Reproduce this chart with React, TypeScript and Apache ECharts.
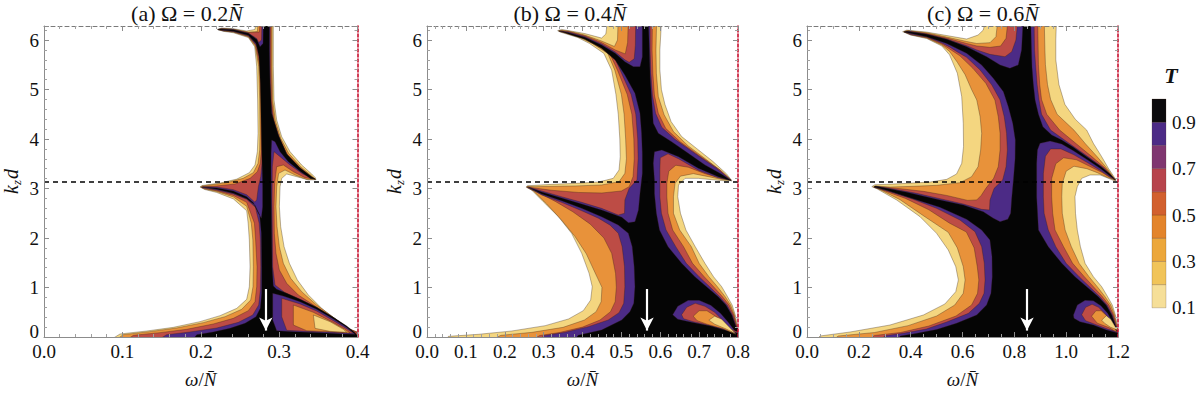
import React, { useEffect, useRef } from "react";
import * as echarts from "echarts";

type Pt = [number, number];

// ---------------- axes / annotations ----------------
const KD_MAX = 2 * Math.PI;
const KD_DASHED_LINE = Math.PI;
const Y_TICK_STEP = 1;
const OMEGA_MAX = [0.4, 0.8, 1.2];
const X_TICK_STEP = [0.1, 0.1, 0.2];
const X_MINOR_SPLIT = [5, 5, 4];
const PANEL_LABELS = ["(a) Ω = 0.2", "(b) Ω = 0.4", "(c) Ω = 0.6"];
const ARROW_OMEGA = [0.283, 0.566, 0.849];
const ARROW_KD_TOP = 0.97;
const ARROW_KD_TIP = 0.13;

// colour bar of T
const T_EDGES = [0, 0.1, 0.2, 0.3, 0.4, 0.5, 0.6, 0.7, 0.8, 0.9, 1.0];
const T_COLORS = ["#ffffff", "#f6df98", "#f1c459", "#eca73b", "#e3842b", "#d2602e", "#b7444c", "#7f3670", "#4c2b86", "#0b0a0c"];

// band fills used for the traced contour levels
const BAND_01 = "#f4d680"; // 0.1 – 0.3
const BAND_03 = "#e8923a"; // 0.3 – 0.55
const BAND_055 = "#bd4c45"; // 0.55 – 0.8
const BAND_08 = "#4c2b86"; // 0.8 – 0.9
const BAND_09 = "#050505"; // > 0.9
const CONTOUR_LINE = "rgba(45,28,18,0.55)";

// ---------------- panel (a): Ω = 0.2 N ----------------
const A_W_LEFT: Pt[] = [[0,0],[0,6.283],[0.2714,6.283],[0.2692,6.215],[0.2586,6.182],[0.2416,6.229],[0.2267,6.242],[0.2212,6.215],[0.229,6.175],[0.2416,6.147],[0.2607,6.05],[0.2688,5.866],[0.2714,5.461],[0.2726,4.788],[0.2731,4.114],[0.2722,3.744],[0.2692,3.475],[0.262,3.32],[0.246,3.19],[0.2246,3.11],[0.2076,3.075],[0.2016,3.06],[0.199,3.03],[0.205,2.98],[0.2203,2.92],[0.2416,2.79],[0.2586,2.55],[0.2605,2.3],[0.262,1.96],[0.2629,1.421],[0.262,1.017],[0.2586,0.761],[0.246,0.579],[0.2246,0.431],[0.199,0.31],[0.165,0.195],[0.131,0.121],[0.097,0.061],[0.0702,0]];
const A_W_RIGHT: Pt[] = [[0.2926,6.283],[0.4,6.283],[0.4,0.04],[0.3905,0.141],[0.3735,0.343],[0.3543,0.579],[0.3373,0.849],[0.3233,1.152],[0.3131,1.488],[0.3063,1.825],[0.302,2.229],[0.3003,2.633],[0.3012,3.037],[0.3033,3.205],[0.3097,3.293],[0.3224,3.239],[0.3373,3.172],[0.3471,3.178],[0.3462,3.219],[0.3416,3.293],[0.3288,3.475],[0.3139,3.744],[0.3033,4.047],[0.2969,4.384],[0.2935,4.788],[0.2926,5.461]];
const A_L03: Pt[] = [[0.2739,6.283],[0.2722,6.17],[0.2607,6.16],[0.2416,6.22],[0.2267,6.235],[0.2216,6.213],[0.229,6.18],[0.2416,6.16],[0.2607,6.065],[0.2695,5.88],[0.2739,5.461],[0.2752,4.788],[0.2756,4.114],[0.2752,3.778],[0.2731,3.508],[0.2671,3.32],[0.254,3.205],[0.233,3.118],[0.212,3.071],[0.202,3.051],[0.2,3.03],[0.205,2.99],[0.2203,2.94],[0.2416,2.83],[0.2586,2.64],[0.2645,2.3],[0.2665,1.96],[0.2671,1.421],[0.2667,1.017],[0.2637,0.747],[0.2522,0.559],[0.231,0.411],[0.2033,0.29],[0.169,0.182],[0.135,0.108],[0.101,0.047],[0.08,0]];
const A_R03: Pt[] = [[0.4,0.02],[0.3883,0.175],[0.3692,0.397],[0.3479,0.646],[0.3288,0.916],[0.3148,1.185],[0.3054,1.488],[0.3003,1.825],[0.2973,2.229],[0.296,2.633],[0.2969,3.037],[0.2994,3.306],[0.3075,3.374],[0.3203,3.273],[0.3352,3.185],[0.3462,3.185],[0.3411,3.259],[0.3275,3.441],[0.3122,3.71],[0.302,4.013],[0.2952,4.37],[0.2918,4.788],[0.291,5.461],[0.291,6.283]];
const A_L055: Pt[] = [[0.276,6.283],[0.2748,6.16],[0.2607,6.15],[0.2416,6.215],[0.2267,6.23],[0.222,6.211],[0.229,6.185],[0.2416,6.165],[0.2607,6.075],[0.27,5.9],[0.2756,5.461],[0.2769,4.788],[0.2773,4.114],[0.2773,3.778],[0.276,3.508],[0.2722,3.34],[0.2629,3.205],[0.2437,3.091],[0.2203,3.051],[0.204,3.037],[0.2008,3.024],[0.205,3.0],[0.2203,2.955],[0.2416,2.86],[0.2586,2.72],[0.2685,2.3],[0.27,1.96],[0.2718,1.421],[0.2714,1.017],[0.2692,0.714],[0.2607,0.532],[0.2416,0.377],[0.216,0.263],[0.182,0.155],[0.148,0.088],[0.114,0.034],[0.0927,0]];
const A_R055: Pt[] = [[0.4,0.007],[0.3875,0.175],[0.3684,0.391],[0.3458,0.626],[0.3245,0.849],[0.3097,1.084],[0.3003,1.354],[0.296,1.69],[0.2939,2.094],[0.2935,2.633],[0.2943,3.104],[0.2969,3.441],[0.3054,3.475],[0.3182,3.34],[0.333,3.219],[0.3462,3.185],[0.3407,3.239],[0.3267,3.414],[0.311,3.677],[0.3007,3.98],[0.2935,4.35],[0.2905,4.788],[0.2897,5.461],[0.2897,6.283]];
const A_L08: Pt[] = [[0.2782,6.283],[0.2775,6.0],[0.274,5.95],[0.2714,6.03],[0.2607,6.14],[0.2416,6.212],[0.2267,6.226],[0.2224,6.21],[0.229,6.19],[0.2416,6.17],[0.2607,6.085],[0.2703,5.91],[0.2748,5.764],[0.2778,5.461],[0.2786,4.788],[0.2786,4.114],[0.2786,3.778],[0.2782,3.508],[0.2765,3.239],[0.2735,3.037],[0.2714,2.768],[0.2688,2.727],[0.2586,2.875],[0.2416,2.977],[0.2203,3.03],[0.2025,3.037],[0.2016,3.017],[0.205,3.01],[0.2203,2.97],[0.2416,2.889],[0.2586,2.781],[0.2697,2.62],[0.2745,2.3],[0.276,1.96],[0.2765,1.421],[0.276,0.95],[0.2739,0.646],[0.2663,0.444],[0.248,0.296],[0.2203,0.182],[0.186,0.101],[0.1565,0.047],[0.131,0]];
const A_R08: Pt[] = [[0.4,0],[0.3871,0.202],[0.3705,0.377],[0.35,0.572],[0.3288,0.747],[0.3075,0.896],[0.2948,1.051],[0.2918,1.421],[0.2914,2.094],[0.291,2.768],[0.2914,3.441],[0.2935,3.744],[0.3012,3.643],[0.3139,3.475],[0.3301,3.293],[0.3462,3.185],[0.3407,3.226],[0.3267,3.394],[0.3101,3.67],[0.2999,4.047],[0.2918,4.451],[0.2892,4.788],[0.2884,5.461],[0.2884,6.283]];
const A_BLACK: Pt[] = [[0.2799,6.283],[0.2795,5.932],[0.2756,5.866],[0.2714,6.013],[0.2607,6.135],[0.2416,6.209],[0.2246,6.222],[0.222,6.209],[0.2416,6.175],[0.2607,6.094],[0.2705,5.932],[0.2743,5.663],[0.276,5.125],[0.2769,4.451],[0.2778,3.778],[0.2786,3.306],[0.279,3.037],[0.279,2.633],[0.2773,2.397],[0.2735,2.498],[0.2671,2.714],[0.2586,2.835],[0.2416,2.95],[0.2203,3.01],[0.2016,3.03],[0.2203,2.983],[0.2416,2.902],[0.2586,2.795],[0.2692,2.66],[0.2752,2.465],[0.2773,2.094],[0.2778,1.421],[0.2778,0.882],[0.276,0.579],[0.2705,0.411],[0.2565,0.276],[0.2373,0.175],[0.216,0.101],[0.195,0.047],[0.182,0],[0.4,0],[0.3969,0.088],[0.3862,0.222],[0.3692,0.397],[0.3479,0.599],[0.3267,0.761],[0.3097,0.882],[0.2969,0.963],[0.2926,1.03],[0.291,1.421],[0.2905,2.094],[0.29,2.768],[0.2897,3.306],[0.2897,3.71],[0.2905,3.98],[0.2948,3.946],[0.3012,3.744],[0.3118,3.542],[0.3267,3.347],[0.3403,3.199],[0.3462,3.192],[0.3416,3.239],[0.3267,3.421],[0.3097,3.697],[0.299,4.081],[0.2905,4.519],[0.2884,5.125],[0.2875,5.798],[0.2875,6.283]];
const A_I09: Pt[] = [[0.2918,0.882],[0.3054,0.828],[0.3267,0.714],[0.3479,0.559],[0.3692,0.364],[0.3862,0.195],[0.3969,0.054],[0.382,0.061],[0.3522,0.088],[0.3182,0.108],[0.2969,0.128],[0.2918,0.343]];
const A_I08: Pt[] = [[0.3033,0.781],[0.3267,0.667],[0.3479,0.525],[0.3692,0.33],[0.3862,0.168],[0.3947,0.074],[0.3692,0.094],[0.3352,0.114],[0.3097,0.135],[0.3033,0.411]];
const A_I055: Pt[] = [[0.3182,0.646],[0.3437,0.498],[0.3671,0.31],[0.3841,0.155],[0.3905,0.081],[0.3649,0.108],[0.3352,0.128],[0.3182,0.242]];
const A_I03: Pt[] = [[0.3437,0.444],[0.3649,0.31],[0.382,0.155],[0.3862,0.094],[0.3649,0.114],[0.3458,0.175]];

// ---------------- panel (b): Ω = 0.4 N ----------------
const B_W_LEFT: Pt[] = [[0,0],[0,6.283],[0.466,6.283],[0.46,6.12],[0.449,6.04],[0.406,6.13],[0.364,6.19],[0.346,6.215],[0.336,6.189],[0.347,6.15],[0.388,6.05],[0.418,5.93],[0.455,5.73],[0.475,5.39],[0.486,4.9],[0.492,4.5],[0.496,4.0],[0.497,3.643],[0.494,3.374],[0.479,3.205],[0.441,3.131],[0.381,3.104],[0.321,3.084],[0.278,3.064],[0.259,3.057],[0.255,3.03],[0.269,2.97],[0.299,2.734],[0.338,2.431],[0.372,2.094],[0.398,1.69],[0.417,1.286],[0.425,1.017],[0.421,0.747],[0.402,0.532],[0.364,0.364],[0.304,0.229],[0.218,0.121],[0.132,0.054],[0.055,0.013],[0.04,0]];
const B_W_RIGHT: Pt[] = [[0.604,6.283],[0.8,6.283],[0.8,0.03],[0.799,0.209],[0.793,0.444],[0.785,0.646],[0.773,0.815],[0.758,1.017],[0.737,1.219],[0.715,1.488],[0.69,1.825],[0.666,2.162],[0.652,2.5],[0.645,2.835],[0.647,3.071],[0.664,3.205],[0.698,3.205],[0.741,3.172],[0.771,3.152],[0.784,3.165],[0.77,3.3],[0.735,3.55],[0.695,3.8],[0.655,4.05],[0.628,4.35],[0.612,4.7],[0.603,5.0],[0.599,5.4],[0.599,5.8]];
const B_L03: Pt[] = [[0.492,6.283],[0.49,6.0],[0.482,5.87],[0.449,5.98],[0.406,6.1],[0.364,6.18],[0.346,6.195],[0.338,6.182],[0.351,6.15],[0.394,6.05],[0.425,5.93],[0.465,5.73],[0.483,5.39],[0.5,4.9],[0.507,4.5],[0.511,4.0],[0.513,3.6],[0.509,3.306],[0.494,3.138],[0.449,3.071],[0.381,3.051],[0.321,3.044],[0.278,3.037],[0.258,3.044],[0.256,3.024],[0.274,2.95],[0.308,2.687],[0.346,2.364],[0.381,2.027],[0.41,1.677],[0.435,1.253],[0.45,1.003],[0.448,0.714],[0.435,0.512],[0.405,0.343],[0.35,0.195],[0.27,0.094],[0.19,0.034],[0.13,0]];
const B_R03: Pt[] = [[0.8,0.02],[0.797,0.209],[0.791,0.444],[0.781,0.646],[0.767,0.815],[0.747,1.017],[0.725,1.219],[0.7,1.488],[0.68,1.825],[0.65,2.162],[0.634,2.5],[0.634,2.835],[0.638,3.1],[0.652,3.25],[0.685,3.3],[0.724,3.24],[0.76,3.18],[0.782,3.17],[0.756,3.36],[0.716,3.6],[0.672,3.86],[0.634,4.15],[0.61,4.49],[0.595,4.86],[0.59,5.33],[0.589,5.8],[0.591,6.283]];
const B_L055: Pt[] = [[0.518,6.283],[0.516,5.95],[0.51,5.72],[0.484,5.8],[0.449,5.95],[0.406,6.085],[0.364,6.17],[0.346,6.185],[0.34,6.175],[0.354,6.15],[0.398,6.05],[0.43,5.93],[0.47,5.73],[0.49,5.39],[0.515,4.9],[0.527,4.5],[0.532,4.0],[0.533,3.6],[0.53,3.239],[0.52,3.037],[0.5,2.95],[0.45,2.91],[0.39,2.92],[0.32,2.965],[0.272,3.015],[0.257,3.03],[0.29,2.9],[0.33,2.74],[0.375,2.53],[0.42,2.28],[0.455,2.0],[0.475,1.69],[0.485,1.286],[0.487,1.003],[0.484,0.714],[0.472,0.512],[0.445,0.343],[0.4,0.2],[0.34,0.09],[0.29,0.03],[0.24,0]];
const B_R055: Pt[] = [[0.8,0.015],[0.797,0.209],[0.789,0.444],[0.777,0.646],[0.76,0.815],[0.737,1.017],[0.713,1.219],[0.683,1.488],[0.66,1.825],[0.632,2.162],[0.62,2.5],[0.617,2.835],[0.617,3.104],[0.622,3.35],[0.64,3.47],[0.672,3.43],[0.715,3.3],[0.758,3.2],[0.782,3.172],[0.754,3.374],[0.702,3.657],[0.651,3.946],[0.614,4.215],[0.595,4.519],[0.585,4.889],[0.581,5.327],[0.579,5.798],[0.58,6.283]];
const B_L08: Pt[] = [[0.537,6.283],[0.536,5.9],[0.533,5.62],[0.52,5.55],[0.509,5.6],[0.484,5.76],[0.449,5.92],[0.406,6.07],[0.364,6.16],[0.346,6.178],[0.341,6.168],[0.357,6.15],[0.402,6.05],[0.435,5.93],[0.478,5.73],[0.497,5.39],[0.525,4.9],[0.537,4.5],[0.542,4.0],[0.543,3.6],[0.54,3.172],[0.52,3.003],[0.509,2.768],[0.508,2.498],[0.492,2.465],[0.449,2.599],[0.398,2.721],[0.346,2.835],[0.295,2.95],[0.261,3.03],[0.259,3.024],[0.295,2.87],[0.346,2.72],[0.398,2.55],[0.441,2.4],[0.471,2.26],[0.492,2.094],[0.502,1.825],[0.508,1.421],[0.509,1.017],[0.506,0.68],[0.494,0.492],[0.466,0.343],[0.415,0.209],[0.355,0.094],[0.3,0.027],[0.275,0]];
const B_R08: Pt[] = [[0.8,0.01],[0.796,0.209],[0.786,0.444],[0.772,0.646],[0.753,0.815],[0.727,1.017],[0.7,1.219],[0.667,1.488],[0.64,1.825],[0.615,2.162],[0.603,2.5],[0.599,2.835],[0.599,3.374],[0.6,3.62],[0.62,3.7],[0.647,3.6],[0.698,3.37],[0.749,3.215],[0.782,3.165],[0.745,3.407],[0.689,3.71],[0.638,3.993],[0.604,4.236],[0.588,4.519],[0.58,4.889],[0.576,5.327],[0.574,5.798],[0.574,6.283]];
const B_BLACK: Pt[] = [[0.554,6.283],[0.554,5.663],[0.548,5.461],[0.531,5.461],[0.509,5.562],[0.484,5.731],[0.449,5.899],[0.406,6.054],[0.364,6.148],[0.34,6.189],[0.364,6.121],[0.406,6.013],[0.449,5.832],[0.484,5.596],[0.509,5.293],[0.535,4.923],[0.548,4.519],[0.552,4.114],[0.554,3.71],[0.554,3.306],[0.55,3.037],[0.548,2.902],[0.544,2.566],[0.535,2.33],[0.518,2.31],[0.501,2.418],[0.449,2.566],[0.398,2.687],[0.346,2.808],[0.295,2.929],[0.261,3.024],[0.295,2.889],[0.346,2.754],[0.398,2.599],[0.449,2.431],[0.492,2.263],[0.518,2.094],[0.528,1.825],[0.533,1.421],[0.535,1.017],[0.532,0.68],[0.522,0.512],[0.501,0.343],[0.449,0.141],[0.389,0.034],[0.364,0],[0.8,0],[0.8,0.06],[0.795,0.209],[0.784,0.444],[0.769,0.646],[0.749,0.815],[0.719,1.017],[0.689,1.219],[0.655,1.488],[0.62,1.825],[0.598,2.162],[0.59,2.5],[0.585,2.9],[0.585,3.172],[0.582,3.508],[0.585,3.744],[0.604,3.778],[0.647,3.643],[0.698,3.407],[0.749,3.239],[0.784,3.152],[0.758,3.286],[0.715,3.475],[0.672,3.71],[0.629,3.946],[0.595,4.114],[0.582,4.317],[0.578,4.788],[0.574,5.259],[0.572,5.798],[0.569,6.283]];
const B_I09: Pt[] = [[0.632,0.45],[0.645,0.62],[0.672,0.74],[0.7,0.74],[0.73,0.64],[0.755,0.48],[0.775,0.3],[0.792,0.12],[0.8,0.03],[0.77,0.13],[0.73,0.22],[0.68,0.3],[0.645,0.36]];
const B_I08: Pt[] = [[0.655,0.45],[0.668,0.6],[0.69,0.68],[0.715,0.62],[0.74,0.5],[0.76,0.34],[0.78,0.16],[0.8,0.03],[0.775,0.14],[0.73,0.23],[0.685,0.31],[0.66,0.37]];
const B_I055: Pt[] = [[0.685,0.42],[0.7,0.53],[0.72,0.53],[0.742,0.42],[0.762,0.27],[0.785,0.1],[0.795,0.05],[0.76,0.17],[0.72,0.26],[0.695,0.33]];
const B_I03: Pt[] = [[0.725,0.34],[0.74,0.42],[0.758,0.36],[0.775,0.22],[0.795,0.06],[0.77,0.16],[0.74,0.26]];

// ---------------- panel (c): Ω = 0.6 N ----------------
const C_W_LEFT: Pt[] = [[0,0],[0,6.283],[0.693,6.283],[0.68,6.2],[0.66,6.1],[0.616,6.02],[0.539,6.09],[0.462,6.16],[0.385,6.2],[0.369,6.168],[0.4,6.1],[0.462,6.03],[0.52,5.88],[0.55,5.7],[0.58,5.33],[0.597,4.855],[0.603,4.317],[0.604,3.845],[0.597,3.508],[0.577,3.293],[0.539,3.185],[0.475,3.131],[0.385,3.104],[0.307,3.084],[0.262,3.077],[0.25,3.037],[0.269,2.997],[0.346,2.768],[0.436,2.431],[0.5,2.094],[0.545,1.758],[0.574,1.421],[0.584,1.152],[0.574,0.916],[0.532,0.667],[0.449,0.444],[0.32,0.242],[0.166,0.101],[0.05,0.02],[0.012,0]];
const C_W_RIGHT: Pt[] = [[0.963,6.283],[1.2,6.283],[1.2,0.03],[1.198,0.2],[1.19,0.444],[1.178,0.646],[1.16,0.815],[1.137,1.017],[1.105,1.219],[1.073,1.488],[1.055,1.825],[1.043,2.162],[1.036,2.5],[1.034,2.835],[1.043,3.037],[1.06,3.205],[1.092,3.273],[1.131,3.273],[1.163,3.205],[1.185,3.158],[1.193,3.17],[1.163,3.407],[1.137,3.643],[1.105,3.912],[1.079,4.182],[1.035,4.4],[0.995,4.7],[0.972,5.1],[0.96,5.6],[0.96,6.0]];
const C_L03: Pt[] = [[0.738,6.283],[0.729,6.067],[0.706,5.946],[0.655,5.93],[0.616,5.97],[0.539,6.06],[0.462,6.145],[0.387,6.19],[0.374,6.168],[0.4,6.105],[0.462,6.04],[0.52,5.9],[0.55,5.77],[0.58,5.55],[0.61,5.3],[0.635,5.0],[0.655,4.788],[0.668,4.451],[0.674,4.114],[0.67,3.778],[0.66,3.441],[0.635,3.239],[0.59,3.118],[0.5,3.064],[0.41,3.044],[0.32,3.03],[0.266,3.051],[0.256,3.03],[0.275,2.997],[0.359,2.774],[0.449,2.451],[0.545,2.115],[0.58,1.8],[0.603,1.421],[0.61,1.152],[0.603,0.882],[0.57,0.646],[0.5,0.424],[0.39,0.229],[0.26,0.09],[0.12,0.02],[0.07,0]];
const C_R03: Pt[] = [[1.2,0.03],[1.196,0.2],[1.187,0.444],[1.172,0.646],[1.15,0.815],[1.12,1.017],[1.088,1.219],[1.05,1.488],[1.02,1.825],[0.996,2.162],[0.985,2.5],[0.983,2.835],[0.985,3.1],[1.0,3.35],[1.03,3.45],[1.08,3.4],[1.12,3.32],[1.16,3.22],[1.19,3.17],[1.157,3.41],[1.12,3.64],[1.075,3.9],[1.03,4.18],[0.965,4.5],[0.94,4.8],[0.928,5.1],[0.92,5.5],[0.918,5.8],[0.915,6.283]];
const C_L055: Pt[] = [[0.777,6.283],[0.768,6.034],[0.747,5.879],[0.706,5.852],[0.655,5.88],[0.616,5.93],[0.539,6.04],[0.462,6.13],[0.391,6.183],[0.376,6.165],[0.4,6.11],[0.462,6.05],[0.52,5.92],[0.55,5.82],[0.59,5.68],[0.64,5.428],[0.69,5.125],[0.725,4.788],[0.738,4.451],[0.745,4.114],[0.745,3.778],[0.738,3.441],[0.72,3.205],[0.69,3.003],[0.672,2.86],[0.655,2.77],[0.62,2.76],[0.539,2.86],[0.449,2.943],[0.359,2.997],[0.275,3.037],[0.259,3.024],[0.29,2.97],[0.38,2.8],[0.47,2.57],[0.55,2.3],[0.615,2.12],[0.645,1.8],[0.657,1.421],[0.663,1.152],[0.658,0.882],[0.635,0.646],[0.575,0.424],[0.47,0.222],[0.36,0.09],[0.26,0.03],[0.2,0]];
const C_R055: Pt[] = [[1.2,0.025],[1.195,0.2],[1.183,0.444],[1.165,0.646],[1.14,0.815],[1.105,1.017],[1.07,1.219],[1.025,1.488],[0.99,1.825],[0.957,2.162],[0.948,2.5],[0.944,2.835],[0.944,3.2],[0.96,3.5],[0.99,3.62],[1.04,3.58],[1.09,3.45],[1.14,3.32],[1.172,3.21],[1.19,3.17],[1.151,3.41],[1.1,3.64],[1.04,3.9],[0.975,4.18],[0.925,4.5],[0.905,4.8],[0.898,5.1],[0.893,5.5],[0.892,5.8],[0.89,6.283]];
const C_L08: Pt[] = [[0.815,6.283],[0.806,6.0],[0.79,5.764],[0.764,5.663],[0.706,5.71],[0.655,5.8],[0.616,5.885],[0.539,6.02],[0.462,6.12],[0.393,6.178],[0.377,6.162],[0.4,6.115],[0.462,6.06],[0.52,5.94],[0.55,5.86],[0.58,5.76],[0.616,5.65],[0.668,5.394],[0.713,5.091],[0.745,4.788],[0.761,4.451],[0.77,4.114],[0.773,3.778],[0.768,3.441],[0.755,3.172],[0.722,3.003],[0.706,2.768],[0.704,2.566],[0.674,2.579],[0.603,2.687],[0.513,2.795],[0.423,2.902],[0.333,2.99],[0.269,3.044],[0.261,3.024],[0.32,2.936],[0.41,2.781],[0.5,2.599],[0.59,2.364],[0.648,2.128],[0.674,1.825],[0.684,1.488],[0.687,1.152],[0.683,0.882],[0.665,0.68],[0.623,0.478],[0.539,0.303],[0.46,0.16],[0.37,0.075],[0.3,0.025],[0.27,0]];
const C_R08: Pt[] = [[1.2,0.02],[1.194,0.2],[1.179,0.444],[1.158,0.646],[1.13,0.815],[1.09,1.017],[1.05,1.219],[1.0,1.488],[0.96,1.825],[0.931,2.162],[0.915,2.5],[0.912,2.835],[0.912,3.3],[0.92,3.65],[0.94,3.8],[0.98,3.8],[1.03,3.68],[1.08,3.53],[1.13,3.37],[1.17,3.23],[1.19,3.17],[1.146,3.41],[1.085,3.64],[1.015,3.9],[0.94,4.18],[0.905,4.5],[0.895,4.8],[0.888,5.1],[0.882,5.5],[0.878,5.8],[0.876,6.283]];
const C_BLACK: Pt[] = [[0.835,6.283],[0.828,5.798],[0.815,5.495],[0.783,5.428],[0.745,5.495],[0.693,5.663],[0.616,5.866],[0.539,6.013],[0.462,6.115],[0.385,6.175],[0.374,6.162],[0.462,6.067],[0.539,5.932],[0.616,5.731],[0.674,5.495],[0.719,5.226],[0.758,4.956],[0.777,4.653],[0.794,4.317],[0.804,3.98],[0.803,3.6],[0.797,3.2],[0.79,2.8],[0.786,2.5],[0.775,2.38],[0.745,2.33],[0.719,2.397],[0.68,2.532],[0.603,2.667],[0.513,2.768],[0.385,2.923],[0.307,3.003],[0.262,3.051],[0.259,3.03],[0.307,2.963],[0.385,2.835],[0.513,2.62],[0.616,2.377],[0.674,2.162],[0.706,1.96],[0.714,1.623],[0.715,1.219],[0.71,0.882],[0.693,0.646],[0.655,0.444],[0.577,0.276],[0.5,0.15],[0.42,0.07],[0.36,0.02],[0.33,0],[1.2,0],[1.2,0.06],[1.192,0.209],[1.176,0.444],[1.154,0.646],[1.124,0.815],[1.079,1.017],[1.034,1.219],[0.983,1.488],[0.931,1.825],[0.893,2.162],[0.886,2.835],[0.886,3.5],[0.889,3.78],[0.899,3.912],[0.938,3.96],[0.983,3.899],[1.028,3.764],[1.079,3.589],[1.131,3.407],[1.169,3.253],[1.19,3.17],[1.169,3.293],[1.131,3.455],[1.079,3.643],[1.028,3.832],[0.983,3.98],[0.944,4.081],[0.91,4.25],[0.893,4.5],[0.88,4.79],[0.873,5.12],[0.868,5.46],[0.866,5.8],[0.863,6.283]];
const C_I09: Pt[] = [[1.028,0.444],[1.043,0.646],[1.073,0.74],[1.105,0.73],[1.134,0.63],[1.16,0.48],[1.18,0.3],[1.195,0.12],[1.2,0.03],[1.156,0.14],[1.105,0.24],[1.053,0.31],[1.03,0.377]];
const C_I08: Pt[] = [[1.06,0.45],[1.075,0.6],[1.1,0.66],[1.125,0.6],[1.15,0.47],[1.172,0.32],[1.19,0.14],[1.2,0.04],[1.16,0.16],[1.11,0.26],[1.075,0.33]];
const C_I055: Pt[] = [[1.098,0.42],[1.115,0.53],[1.135,0.53],[1.158,0.42],[1.178,0.27],[1.195,0.1],[1.165,0.19],[1.12,0.28]];
const C_I03: Pt[] = [[1.137,0.34],[1.155,0.43],[1.172,0.36],[1.19,0.2],[1.2,0.06],[1.17,0.2],[1.148,0.28]];

// ---------------- layout ----------------
const FONT = "'Liberation Serif', 'Times New Roman', serif";
const GRIDS = [
  { left: 44, top: 26, width: 313.5, height: 311 },
  { left: 427, top: 26, width: 311, height: 311 },
  { left: 807, top: 26, width: 311, height: 311 },
];
const CB_GRID = { left: 1152, top: 99, width: 14, height: 232 };
const TITLE_CX = [187, 570, 983];

type Layer = { pts: Pt[]; fill: string; line: boolean };

function panelLayers(xMax: number, d: Record<string, Pt[]>): Layer[] {
  const full: Pt[] = [[0, 0], [xMax, 0], [xMax, KD_MAX], [0, KD_MAX]];
  return [
    { pts: full, fill: BAND_01, line: false },
    { pts: d.wl, fill: "#ffffff", line: true },
    { pts: d.wr, fill: "#ffffff", line: true },
    { pts: d.l03.concat(d.r03), fill: BAND_03, line: true },
    { pts: d.l055.concat(d.r055), fill: BAND_055, line: true },
    { pts: d.l08.concat(d.r08), fill: BAND_08, line: true },
    { pts: d.black, fill: BAND_09, line: true },
    { pts: d.i09, fill: BAND_08, line: true },
    { pts: d.i08, fill: BAND_055, line: true },
    { pts: d.i055, fill: BAND_03, line: true },
    { pts: d.i03, fill: BAND_01, line: true },
  ];
}

const PANEL_DATA = [
  { wl: A_W_LEFT, wr: A_W_RIGHT, l03: A_L03, r03: A_R03, l055: A_L055, r055: A_R055, l08: A_L08, r08: A_R08, black: A_BLACK, i09: A_I09, i08: A_I08, i055: A_I055, i03: A_I03 },
  { wl: B_W_LEFT, wr: B_W_RIGHT, l03: B_L03, r03: B_R03, l055: B_L055, r055: B_R055, l08: B_L08, r08: B_R08, black: B_BLACK, i09: B_I09, i08: B_I08, i055: B_I055, i03: B_I03 },
  { wl: C_W_LEFT, wr: C_W_RIGHT, l03: C_L03, r03: C_R03, l055: C_L055, r055: C_R055, l08: C_L08, r08: C_R08, black: C_BLACK, i09: C_I09, i08: C_I08, i055: C_I055, i03: C_I03 },
];

// points lying on the frame are pushed just outside it so that their
// outline falls under the clip and does not draw a line along the frame
function snap(p: Pt, xMax: number): Pt {
  const x = p[0] <= 0 ? -0.03 * xMax : p[0] >= xMax ? 1.03 * xMax : p[0];
  const y = p[1] >= 6.28 ? KD_MAX + 0.2 : p[1] <= 0 ? -0.2 : p[1];
  return [x, y];
}

function buildOption(): any {
  const xAxis: any[] = [];
  const yAxis: any[] = [];
  const series: any[] = [];
  const gray = "#8c8c8c";
  const labelStyle = { fontFamily: FONT, fontSize: 19, color: "#111" };

  for (let i = 0; i < 3; i++) {
    xAxis.push({
      type: "value", gridIndex: i, min: 0, max: OMEGA_MAX[i], interval: X_TICK_STEP[i], position: "bottom", z: 5,
      axisLine: { show: true, onZero: false, lineStyle: { color: gray, width: 1 } },
      axisTick: { show: true, inside: true, length: 5, lineStyle: { color: gray } },
      minorTick: { show: true, splitNumber: X_MINOR_SPLIT[i], length: 3, lineStyle: { color: "#a0a0a0" } },
      axisLabel: { show: true, margin: 5, ...labelStyle, formatter: (v: number) => v.toFixed(1) },
      splitLine: { show: false },
    });
    yAxis.push({
      type: "value", gridIndex: i, min: 0, max: KD_MAX, interval: Y_TICK_STEP, position: "left", z: 5,
      axisLine: { show: true, onZero: false, lineStyle: { color: gray, width: 1 } },
      axisTick: { show: true, inside: true, length: 5, lineStyle: { color: gray } },
      minorTick: { show: true, splitNumber: 5, length: 3, lineStyle: { color: "#a0a0a0" } },
      axisLabel: {
        show: true, margin: 5, ...labelStyle, showMaxLabel: false,
        rich: { z: { ...labelStyle, padding: [0, 0, 12, 0] } },
        formatter: (v: number) => {
          if (Math.abs(v - Math.round(v)) > 1e-6) return "";
          const n = Math.round(v);
          return n === 0 ? "{z|0}" : String(n);
        },
      },
      splitLine: { show: false },
    });
  }
  for (let i = 0; i < 3; i++) {
    xAxis.push({
      type: "value", gridIndex: i, min: 0, max: OMEGA_MAX[i], interval: X_TICK_STEP[i], position: "top", z: 5,
      axisLine: { show: true, onZero: false, lineStyle: { color: "#7a7a7a", width: 1, type: [4, 3] } },
      axisTick: { show: true, inside: true, length: 5, lineStyle: { color: gray } },
      minorTick: { show: true, splitNumber: X_MINOR_SPLIT[i], length: 3, lineStyle: { color: "#a0a0a0" } },
      axisLabel: { show: false }, splitLine: { show: false },
    });
    yAxis.push({
      type: "value", gridIndex: i, min: 0, max: KD_MAX, interval: Y_TICK_STEP, position: "right", z: 5,
      axisLine: { show: true, onZero: false, lineStyle: { color: "#c8102e", width: 1.6, type: [3, 2] } },
      axisTick: { show: true, inside: true, length: 5, lineStyle: { color: gray } },
      minorTick: { show: true, splitNumber: 5, length: 3, lineStyle: { color: "#a0a0a0" } },
      axisLabel: { show: false }, splitLine: { show: false },
    });
  }
  xAxis.push({ type: "value", gridIndex: 3, min: 0, max: 1, show: false });
  yAxis.push({
    type: "value", gridIndex: 3, min: 0, max: 1, interval: 0.1, position: "right",
    axisLine: { show: false }, axisTick: { show: false }, splitLine: { show: false },
    axisLabel: {
      show: true, margin: 6, ...labelStyle,
      formatter: (v: number) => { const k = Math.round(v * 10); return k % 2 === 1 ? (k / 10).toFixed(1) : ""; },
    },
  });

  for (let i = 0; i < 3; i++) {
    const xMax = OMEGA_MAX[i];
    const layers = panelLayers(xMax, PANEL_DATA[i] as any);
    series.push({
      type: "custom", xAxisIndex: i, yAxisIndex: i, clip: true, silent: true, z: 2,
      data: layers.map((l) => [l.pts[0][0], l.pts[0][1]]),
      renderItem: (params: any, api: any) => {
        const L = layers[params.dataIndex];
        const points = L.pts.map((p) => api.coord(snap(p, xMax)));
        return {
          type: "polygon", shape: { points },
          style: { fill: L.fill, stroke: L.line ? CONTOUR_LINE : "none", lineWidth: L.line ? 0.6 : 0 },
        };
      },
      markLine: {
        silent: true, symbol: ["none", "none"], label: { show: false }, animation: false,
        data: [
          { yAxis: KD_DASHED_LINE, lineStyle: { color: "#000", width: 1.6, type: [5, 4] } },
          [
            { coord: [ARROW_OMEGA[i], ARROW_KD_TOP], symbol: "none", lineStyle: { color: "#ffffff", width: 2.2, type: "solid" } },
            { coord: [ARROW_OMEGA[i], ARROW_KD_TIP], symbol: "arrow", symbolSize: [10, 13] },
          ],
        ],
      },
    });
  }

  series.push({
    type: "custom", xAxisIndex: 6, yAxisIndex: 6, silent: true,
    data: T_COLORS.map((_, k) => [T_EDGES[k], T_EDGES[k + 1]]),
    renderItem: (params: any, api: any) => {
      const k = params.dataIndex;
      const lo = api.coord([0, T_EDGES[k]]);
      const hi = api.coord([1, T_EDGES[k + 1]]);
      return {
        type: "rect",
        shape: { x: lo[0], y: hi[1], width: hi[0] - lo[0], height: lo[1] - hi[1] },
        style: { fill: T_COLORS[k], stroke: k === 0 ? "none" : "rgba(70,45,25,0.45)", lineWidth: 0.5 },
      };
    },
  });

  const rich = {
    r: { fontFamily: FONT, fontSize: 22, fill: "#111" },
    i: { fontFamily: FONT, fontSize: 22, fontStyle: "italic", fill: "#111" },
  };
  const richSmall = {
    r: { fontFamily: FONT, fontSize: 19, fill: "#111" },
    i: { fontFamily: FONT, fontSize: 19, fontStyle: "italic", fill: "#111" },
  };
  const graphic: any[] = [];
  for (let i = 0; i < 3; i++) {
    const g = GRIDS[i];
    const cx = g.left + g.width / 2;
    graphic.push({
      type: "text", x: TITLE_CX[i], y: 13, silent: true,
      style: { text: `{r|${PANEL_LABELS[i]}}{i|N\u0304}`, align: "center", verticalAlign: "middle", rich },
    });
    graphic.push({
      type: "text", x: cx, y: 379, silent: true,
      style: { text: "{i|ω}{r|/}{i|N\u0304}", align: "center", verticalAlign: "middle", rich: richSmall },
    });
    graphic.push({
      type: "group", x: g.left - 33, y: g.top + g.height / 2, rotation: Math.PI / 2, silent: true,
      children: [
        { type: "text", x: -12.5, y: 0, style: { text: "k", fontFamily: FONT, fontSize: 20, fontStyle: "italic", fill: "#111", align: "left", verticalAlign: "middle" } },
        { type: "text", x: -3.5, y: 5, style: { text: "z", fontFamily: FONT, fontSize: 13, fontStyle: "italic", fill: "#111", align: "left", verticalAlign: "middle" } },
        { type: "text", x: 2.5, y: 0, style: { text: "d", fontFamily: FONT, fontSize: 20, fontStyle: "italic", fill: "#111", align: "left", verticalAlign: "middle" } },
      ],
    });
  }
  graphic.push({
    type: "text", x: 1171, y: 75, silent: true,
    style: { text: "T", fontFamily: FONT, fontSize: 22, fontStyle: "italic", fontWeight: "bold", fill: "#111", align: "center", verticalAlign: "middle" },
  });

  return {
    animation: false,
    backgroundColor: "#ffffff",
    grid: [...GRIDS, CB_GRID].map((g) => ({ ...g, containLabel: false })),
    xAxis, yAxis, series, graphic,
  };
}

export default function App() {
  const ref = useRef<HTMLDivElement>(null);
  useEffect(() => {
    if (!ref.current) return;
    const chart = echarts.init(ref.current, undefined, { renderer: "svg" });
    chart.setOption(buildOption());
    return () => chart.dispose();
  }, []);
  return <div ref={ref} style={{ position: "absolute", left: 0, top: 0, width: 1200, height: 393 }} />;
}
